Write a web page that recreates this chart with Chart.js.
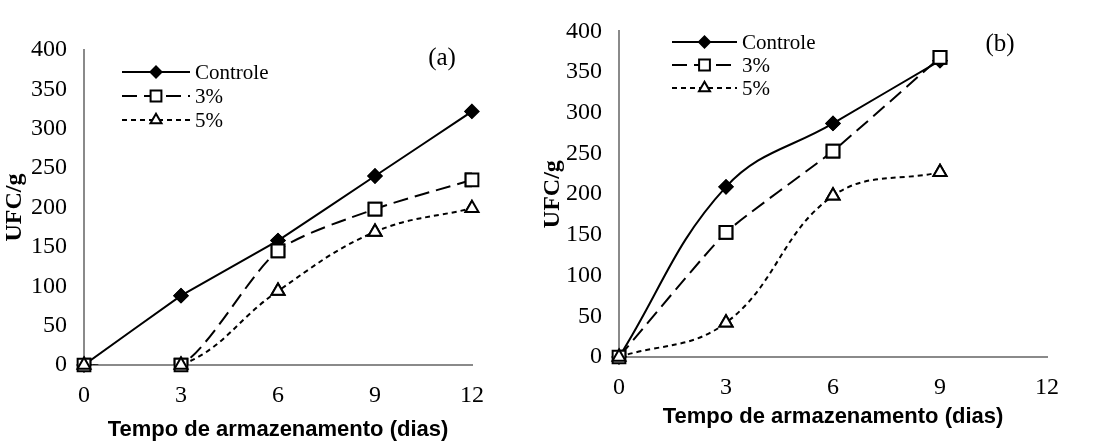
<!DOCTYPE html>
<html lang="pt">
<head>
<meta charset="utf-8">
<title>UFC/g x Tempo de armazenamento</title>
<script src="https://cdn.jsdelivr.net/npm/chart.js@4.4.1/dist/chart.umd.min.js"></script>
<style>
  html, body { margin: 0; padding: 0; background: #ffffff; }
  #wrap { position: relative; width: 1094px; height: 441px; overflow: hidden; }
  canvas { position: absolute; top: 0; }
  #chartA { left: 0; }
  #chartB { left: 540px; }
</style>
</head>
<body>
<div id="wrap">
  <canvas id="chartA" width="540" height="441"></canvas>
  <canvas id="chartB" width="554" height="441"></canvas>
</div>
<script>
// Dados de contagem (UFC/g) por tempo de armazenamento
const seriesNames = ['Controle', '3%', '5%'];

const daysA = [0, 3, 6, 9, 12];
const controleA = [0, 88, 158, 240, 322];
const tresA = [0, 0, 145, 198, 235];
const cincoA = [0, 0, 94, 169, 199];

const daysB = [0, 3, 6, 9];
const controleB = [0, 209, 287, 364];
const tresB = [0, 153, 253, 368];
const cincoB = [0, 42, 198, 227];

const xTickStep = 3;
const xMax = 12;
const yTickStep = 50;
const yMax = 400;

const SERIF = '"Liberation Serif", "Times New Roman", serif';
const SANS = '"Liberation Sans", Arial, sans-serif';
const AXIS_GRAY = '#8a8a8a';

/**
 * Legenda desenhada à mão: traço com o mesmo tracejado da série e o marcador no meio.
 */
const legendLines = {
  id: 'legendLines',
  afterDraw(chart, args, opts) {
    const ctx = chart.ctx;
    const { drawPoint } = Chart.helpers;
    ctx.save();
    chart.data.datasets.forEach((ds, i) => {
      const y = opts.y + i * opts.rowGap;
      ctx.beginPath();
      ctx.setLineDash(ds.borderDash || []);
      ctx.lineWidth = ds.borderWidth;
      ctx.strokeStyle = ds.borderColor;
      ctx.moveTo(opts.x, y);
      ctx.lineTo(opts.x + opts.lineLength, y);
      ctx.stroke();
      ctx.setLineDash([]);

      ctx.fillStyle = ds.pointBackgroundColor;
      ctx.strokeStyle = ds.pointBorderColor;
      ctx.lineWidth = ds.pointBorderWidth;
      drawPoint(ctx, {
        pointStyle: ds.pointStyle,
        radius: ds.pointRadius * 0.85,
        borderWidth: ds.pointBorderWidth,
        rotation: 0
      }, opts.x + opts.lineLength / 2, y);

      ctx.fillStyle = '#000000';
      ctx.font = `21px ${SERIF}`;
      ctx.textBaseline = 'middle';
      ctx.textAlign = 'left';
      ctx.fillText(ds.label, opts.x + opts.lineLength + 5, y + 1);
    });

    // Letra do painel
    ctx.font = `25px ${SERIF}`;
    ctx.textAlign = 'center';
    ctx.fillText(opts.tag, opts.tagX, opts.tagY);
    ctx.restore();
  }
};

/**
 * As linhas ficam recortadas na área do gráfico; os marcadores são redesenhados
 * sem recorte para aparecerem inteiros sobre os eixos.
 */
const unclippedPoints = {
  id: 'unclippedPoints',
  afterDatasetsDraw(chart) {
    const metas = chart.getSortedVisibleDatasetMetas();
    for (let i = metas.length - 1; i >= 0; --i) {
      metas[i].data.forEach(pt => pt.draw(chart.ctx));
    }
  }
};

function makeDataset(label, xs, ys, style, tension) {
  return {
    label,
    data: xs.map((x, i) => ({ x, y: ys[i] })),
    borderColor: '#000000',
    borderWidth: 2,
    borderDash: style.dash,
    pointStyle: style.point,
    pointRadius: style.radius,
    pointBackgroundColor: style.fill,
    pointBorderColor: '#000000',
    pointBorderWidth: 2,
    tension,
    fill: false,
    order: style.order
  };
}

const seriesStyles = [
  { dash: [], point: 'rectRot', radius: 6.5, fill: '#000000', order: 3 },
  { dash: [15, 7], point: 'rect', radius: 9, fill: '#ffffff', order: 2 },
  { dash: [5, 4], point: 'triangle', radius: 7.5, fill: '#ffffff', order: 1 }
];

function buildChart(canvasId, xs, seriesValues, layout) {
  const canvas = document.getElementById(canvasId);
  const datasets = seriesValues.map((vals, i) =>
    makeDataset(seriesNames[i], xs, vals, seriesStyles[i], layout.tensions[i]));

  return new Chart(canvas.getContext('2d'), {
    type: 'line',
    data: { datasets },
    options: {
      responsive: false,
      animation: false,
      events: [],
      layout: { padding: { top: layout.top, right: layout.right, left: 0, bottom: 0 } },
      elements: { line: { capBezierPoints: false } },
      plugins: {
        legend: { display: false },
        tooltip: { enabled: false },
        legendLines: layout.legend
      },
      scales: {
        x: {
          type: 'linear',
          min: 0,
          max: xMax,
          grid: { display: false, drawTicks: false },
          border: { display: true, color: AXIS_GRAY, width: 2 },
          ticks: {
            stepSize: xTickStep,
            padding: 16,
            color: '#000000',
            font: { family: SERIF, size: 24 }
          },
          title: {
            display: true,
            text: 'Tempo de armazenamento (dias)',
            color: '#000000',
            font: { family: SANS, size: 22, weight: 'bold', lineHeight: 1 },
            padding: { top: 0, bottom: layout.xTitlePad }
          },
          afterFit(scale) { scale.height = 441 - layout.bottom; }
        },
        y: {
          min: 0,
          max: yMax,
          grid: { display: false, drawTicks: false },
          border: { display: true, color: AXIS_GRAY, width: 2 },
          ticks: {
            stepSize: yTickStep,
            padding: 17,
            color: '#000000',
            font: { family: SERIF, size: 24 }
          },
          title: {
            display: true,
            text: 'UFC/g',
            color: '#000000',
            font: { family: SERIF, size: 24, weight: 'bold', lineHeight: 1 },
            padding: { top: layout.yTitlePad, bottom: 0 }
          },
          afterFit(scale) { scale.width = layout.left; }
        }
      }
    },
    plugins: [legendLines, unclippedPoints]
  });
}

buildChart('chartA', daysA, [controleA, tresA, cincoA], {
  left: 84, right: 68, top: 50, bottom: 365,
  xTitlePad: 0, yTitlePad: 3,
  tensions: [0.05, 0.25, 0.4],
  legend: { x: 122, y: 72, rowGap: 24, lineLength: 68, tag: '(a)', tagX: 442, tagY: 58 }
});

buildChart('chartB', daysB, [controleB, tresB, cincoB], {
  left: 79, right: 47, top: 25, bottom: 357,
  xTitlePad: 13, yTitlePad: 1,
  tensions: [0.4, 0.15, 0.4],
  legend: { x: 132, y: 42, rowGap: 23, lineLength: 65, tag: '(b)', tagX: 460, tagY: 44 }
});
</script>
</body>
</html>
